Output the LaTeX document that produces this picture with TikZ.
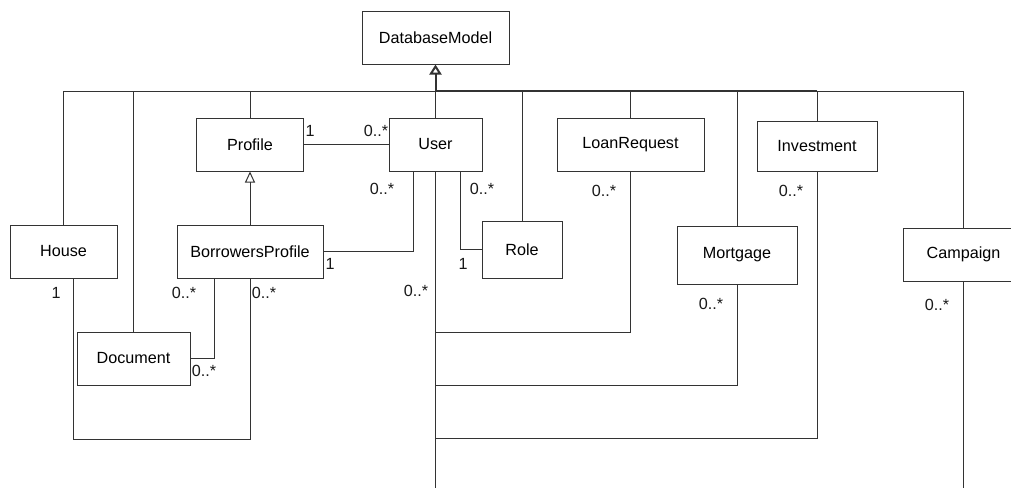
\documentclass[tikz,border=0pt]{standalone}
\usepackage{fontspec}
\setmainfont{Liberation Sans}
\usetikzlibrary{arrows.meta,calc}
\definecolor{L}{RGB}{51,51,51}

\begin{document}
\begin{tikzpicture}[line width=0.71pt, draw=L,
  clase/.style={draw=L, fill=white, inner sep=0pt, font=\fontsize{11.5}{13}\selectfont},
  mult/.style={inner sep=0pt, text=black!90, font=\fontsize{11.5}{13}\selectfont},
  herencia/.style={-{Triangle[open, length=0.275cm, width=0.25cm]}},
  herenciagrande/.style={line width=1.42pt, -{Triangle[open, length=0.25cm, width=0.3cm]}}]
  \useasboundingbox (0,0) rectangle (25.275,-12.2);
  \clip (0,0) rectangle (25.275,-12.2);

  %# CLASES
  \node[clase, minimum width=3.675cm, minimum height=1.325cm] (dbm) at (10.8875,-0.9375) {DatabaseModel};
  \node[clase, minimum width=2.675cm, minimum height=1.325cm] (profile) at (6.25,-3.6125) {Profile};
  \node[clase, minimum width=2.325cm, minimum height=1.325cm] (user) at (10.8875,-3.6125) {User};
  \node[clase, minimum width=3.675cm, minimum height=1.325cm] (loan) at (15.7625,-3.6125) {LoanRequest};
  \node[clase, minimum width=3.0cm, minimum height=1.25cm] (invest) at (20.425,-3.65) {Investment};
  \node[clase, minimum width=2.675cm, minimum height=1.325cm] (house) at (1.5875,-6.2875) {House};
  \node[clase, minimum width=3.65cm, minimum height=1.325cm] (bprof) at (6.25,-6.2875) {BorrowersProfile};
  \node[clase, minimum width=2.0cm, minimum height=1.425cm] (role) at (13.05,-6.2375) {Role};
  \node[clase, minimum width=3.0cm, minimum height=1.45cm] (mort) at (18.425,-6.375) {Mortgage};
  \node[clase, minimum width=3.0cm, minimum height=1.325cm] (camp) at (24.0875,-6.3625) {Campaign};
  \node[clase, minimum width=2.825cm, minimum height=1.325cm] (doc) at (3.3375,-8.9625) {Document};

  %# PUNTOS DE UNION
  \coordinate (hub) at (10.8875,-2.275);
  \coordinate (jloan) at (10.8875,-8.3);
  \coordinate (jmort) at (10.8875,-9.625);
  \coordinate (jinv) at (10.8875,-10.9625);
  \coordinate (ubot) at (10.8875,-12.2);

  %# HERENCIA DE DatabaseModel
  \draw (house.north) |- (hub);
  \draw (doc.north) |- (hub);
  \draw (profile.north) |- (hub);
  \draw (user.north) -- (hub);
  \draw (role.north) |- (hub);
  \draw (loan.north) |- (hub);
  \draw (mort.north) |- (hub);
  \draw (invest.north) |- (hub);
  \draw (camp.north) |- (hub);
  \draw[line width=1.42pt] (hub) -- (invest.north |- hub);
  \draw[herenciagrande] (hub) -- (dbm.south);
  \draw[herencia] (bprof.north) -- (profile.south);

  %# ASOCIACIONES
  \draw (profile.east) -- (user.west);
  \draw ($(user.south)+(-0.5625,0)$) |- (bprof.east);
  \draw ($(user.south)+(0.6125,0)$) |- (role.west);
  \draw (user.south) -- (ubot);
  \draw (loan.south) |- (jloan);
  \draw (mort.south) |- (jmort);
  \draw (invest.south) |- (jinv);
  \draw (camp.south) -- (camp.south |- ubot);
  \draw ($(house.south)+(0.2375,0)$) |- ($(bprof.south)+(0,-4.025)$) -- (bprof.south);
  \draw ($(bprof.south)+(-0.9,0)$) |- (doc.east);

  %# MULTIPLICIDADES
  \node[mult] (m1) at (7.75,-3.275) {1};
  \node[mult] (m2) at (9.4,-3.275) {0..*};
  \node[mult] (m3) at (9.55,-4.725) {0..*};
  \node[mult] (m4) at (12.05,-4.725) {0..*};
  \node[mult] (m5) at (8.25,-6.6) {1};
  \node[mult] (m6) at (11.575,-6.6) {1};
  \node[mult] (m7) at (10.4,-7.275) {0..*};
  \node[mult] (m8) at (15.1,-4.775) {0..*};
  \node[mult] (m9) at (19.775,-4.775) {0..*};
  \node[mult] (m10) at (17.775,-7.6) {0..*};
  \node[mult] (m11) at (23.425,-7.625) {0..*};
  \node[mult] (m12) at (1.4,-7.325) {1};
  \node[mult] (m13) at (4.6,-7.325) {0..*};
  \node[mult] (m14) at (6.6,-7.325) {0..*};
  \node[mult] (m15) at (5.1,-9.275) {0..*};
\end{tikzpicture}
\end{document}
